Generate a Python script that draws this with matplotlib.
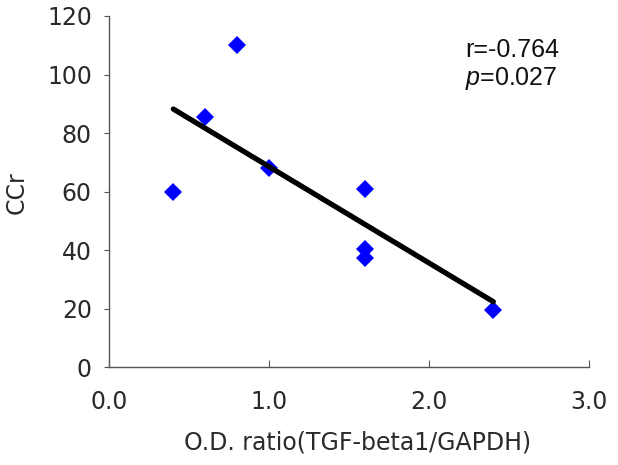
import matplotlib
matplotlib.use("Agg")
import matplotlib.pyplot as plt
import numpy as np

# データ
od_ratio = [0.4, 0.6, 0.8, 1.0, 1.6, 1.6, 1.6, 2.4]
ccr = [60, 85.5, 110, 68, 61, 40.5, 37.5, 19.5]

x_ticks = [0.0, 1.0, 2.0, 3.0]
x_ticklabels = ["0.0", "1.0", "2.0", "3.0"]
y_ticks = [0, 20, 40, 60, 80, 100, 120]

r_text = "r=-0.764"
p_text = r"$\it{p}$=0.027"

plt.rcParams['mathtext.fontset'] = 'custom'
plt.rcParams['mathtext.it'] = 'Liberation Sans:italic'
plt.rcParams['mathtext.rm'] = 'Liberation Sans'

fig = plt.figure(figsize=(6.18, 4.65), dpi=100)
ax = fig.add_axes([0.1769, 0.2101, 0.9536 - 0.1769, 0.9656 - 0.2101])

# 散布図（青いひし形）
ax.plot(od_ratio, ccr, linestyle="none", marker="D", markersize=8.7,
        color="#0000FF", markeredgewidth=0, zorder=2)

# 回帰直線
a, b = np.polyfit(od_ratio, ccr, 1)
fx = np.array([min(od_ratio), max(od_ratio)])
ax.plot(fx, a * fx + b, color="black", linewidth=3.8,
        solid_capstyle="round", zorder=3)

ax.set_xlim(0, 3)
ax.set_ylim(0, 120)
ax.set_xticks(x_ticks)
ax.set_xticklabels(x_ticklabels)
ax.set_yticks(y_ticks)

for s in ["top", "right"]:
    ax.spines[s].set_visible(False)
for s in ["left", "bottom"]:
    ax.spines[s].set_color("#555555")
    ax.spines[s].set_linewidth(1.0)

ax.tick_params(axis="x", direction="in", length=5, width=0.8, color="#555555",
               pad=16, labelsize=17, labelcolor="#2a2a2a")
ax.tick_params(axis="y", direction="out", length=3.6, width=0.8, color="#555555",
               pad=9, labelsize=17, labelcolor="#2a2a2a")

ax.set_xlabel("O.D. ratio(TGF-beta1/GAPDH)", fontsize=17, color="#2a2a2a", va="center")
ax.xaxis.set_label_coords(0.518, -0.215)
ax.set_ylabel("CCr", fontsize=17, color="#2a2a2a", va="center")
ax.yaxis.set_label_coords(-0.194, 0.497)

ax.text(0.741, 0.883, r_text, transform=ax.transAxes, fontsize=18,
        family="Liberation Sans", va="baseline", ha="left", color="#111111")
ax.text(0.741, 0.804, p_text, transform=ax.transAxes, fontsize=18,
        family="Liberation Sans", va="baseline", ha="left", color="#111111")

fig.savefig("out.png", dpi=100)
